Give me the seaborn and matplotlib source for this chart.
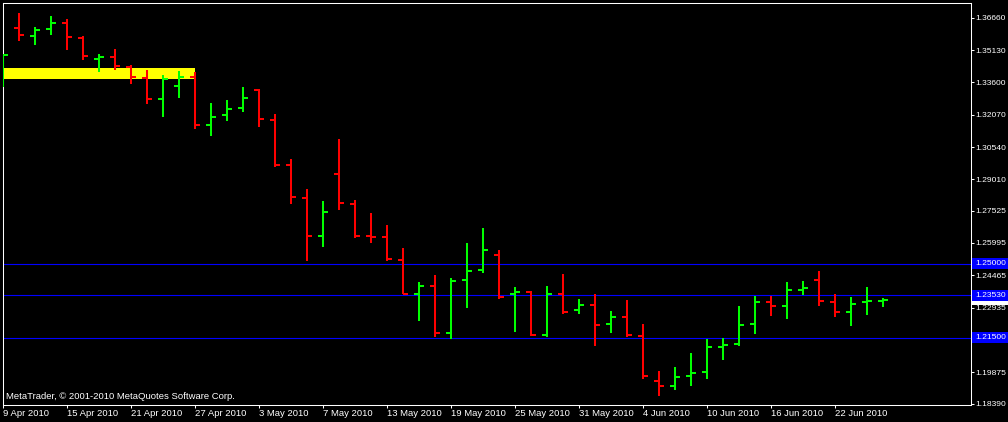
import numpy as np
import pandas as pd
import matplotlib
matplotlib.use("Agg")
import matplotlib.pyplot as plt
import matplotlib.transforms as mtransforms
from matplotlib import font_manager
from matplotlib.patches import Rectangle
import seaborn as sns

# ---------------- data (EURUSD daily) ----------------
opens = [1.34093, 1.36192, 1.35813, 1.36145, 1.36429, 1.35718, 1.34723, 1.34818,
         1.34345, 1.33823, 1.32814, 1.33430, 1.33871, 1.31583, 1.32071, 1.32388,
         1.33241, 1.31820, 1.29688, 1.28139, 1.26339, 1.29262, 1.27841, 1.26325,
         1.26292, 1.25188, 1.23577, 1.23970, 1.21744, 1.24240, 1.24714, 1.25439,
         1.23577, 1.23686, 1.21635, 1.23577, 1.22819, 1.23070, 1.22156, 1.22502,
         1.21602, 1.19470, 1.19233, 1.19707, 1.19896, 1.21090, 1.21209, 1.22156,
         1.23212, 1.23009, 1.23790, 1.24240, 1.23212, 1.22739, 1.23198, 1.23269]
highs = [1.34970, 1.36874, 1.36211, 1.36746, 1.36590, 1.35799, 1.34946, 1.35169,
         1.34425, 1.34188, 1.33951, 1.34127, 1.34093, 1.32625, 1.32767, 1.33383,
         1.33288, 1.32104, 1.29958, 1.28551, 1.27983, 1.30920, 1.28030, 1.27414,
         1.26846, 1.25742, 1.24146, 1.24477, 1.24321, 1.25979, 1.26704, 1.25661,
         1.23895, 1.23719, 1.23956, 1.24525, 1.23340, 1.23577, 1.22772, 1.23293,
         1.22156, 1.19930, 1.20119, 1.20782, 1.21445, 1.21493, 1.23009, 1.23482,
         1.23482, 1.24146, 1.24193, 1.24667, 1.23577, 1.23435, 1.23909, 1.23388]
lows = [1.33383, 1.35576, 1.35387, 1.35860, 1.35136, 1.34662, 1.34108, 1.34188,
        1.33525, 1.32563, 1.31976, 1.32876, 1.31393, 1.31062, 1.31772, 1.32199,
        1.31502, 1.29607, 1.27841, 1.25140, 1.25818, 1.27556, 1.26244, 1.26007,
        1.25140, 1.23577, 1.22312, 1.21554, 1.21431, 1.22928, 1.24586, 1.23326,
        1.21791, 1.21588, 1.21554, 1.22630, 1.22630, 1.21114, 1.21744, 1.21554,
        1.19551, 1.18759, 1.19030, 1.19233, 1.19551, 1.20451, 1.21114, 1.21682,
        1.22535, 1.22393, 1.23530, 1.23009, 1.22488, 1.22061, 1.22582, 1.22961]
closes = [1.34922, 1.35860, 1.36097, 1.36429, 1.35766, 1.34851, 1.34818, 1.34378,
          1.33871, 1.32814, 1.33776, 1.33857, 1.31583, 1.31976, 1.32341, 1.32862,
          1.31867, 1.29688, 1.28172, 1.26325, 1.27462, 1.27888, 1.26325, 1.26301,
          1.25235, 1.23601, 1.23970, 1.21744, 1.24207, 1.24681, 1.25661, 1.23421,
          1.23686, 1.21635, 1.23577, 1.22739, 1.23056, 1.22109, 1.22502, 1.21635,
          1.19707, 1.19233, 1.19660, 1.19849, 1.21081, 1.21138, 1.22109, 1.23212,
          1.23009, 1.23767, 1.23838, 1.23246, 1.22739, 1.23103, 1.23260, 1.23302]

xtick_labels = ["9 Apr 2010", "15 Apr 2010", "21 Apr 2010", "27 Apr 2010",
                "3 May 2010", "7 May 2010", "13 May 2010", "19 May 2010",
                "25 May 2010", "31 May 2010", "4 Jun 2010", "10 Jun 2010",
                "16 Jun 2010", "22 Jun 2010"]
ytick_values = [1.36660, 1.35130, 1.33600, 1.32070, 1.30540, 1.29010, 1.27525,
                1.25995, 1.24465, 1.22935, 1.19875, 1.18390]
level_lines = [1.25000, 1.23530, 1.21500]
zone_bars = [0, 12]
zone_prices = [1.33762, 1.34283]
bid_price = 1.23302
copyright_text = "MetaTrader, \u00a9 2001-2010 MetaQuotes Software Corp."

# ---------------- style ----------------
sns.set_theme(style="dark", rc={
    "axes.facecolor": "black",
    "figure.facecolor": "black",
    "axes.edgecolor": "white",
    "text.color": "white",
    "xtick.color": "white",
    "ytick.color": "white",
    "axes.grid": False,
})
plt.rcParams["font.family"] = ["Liberation Sans", "DejaVu Sans"]
FS = 6.8

installed = {f.name for f in font_manager.fontManager.ttflist}
if "Liberation Sans Narrow" in installed:
    PRICE_FONT, PRICE_FS = "Liberation Sans Narrow", 7.2
else:
    PRICE_FONT, PRICE_FS = "Liberation Sans", 6.1

UP, DOWN = "#00FF00", "#FF0000"

W, H = 1008, 422
fig = plt.figure(figsize=(W / 100, H / 100), dpi=100, facecolor="black")
ax = fig.add_axes([2.5 / W, 1 - 404.5 / H, 968 / W, 402 / H])
ax.set_facecolor("black")

n = len(opens)
df = pd.DataFrame({"bar": np.arange(n), "open": opens, "high": highs,
                   "low": lows, "close": closes})
df["dir"] = np.where(df["close"] >= df["open"], "up", "down")
palette = {"up": UP, "down": DOWN}

# level lines & zone (behind bars)
for lv in level_lines:
    ax.axhline(lv, color="#0000FF", lw=0.8, zorder=1)
ax.fill_between(zone_bars, zone_prices[0], zone_prices[1], color="#FFFF00",
                lw=0, zorder=1.5)

# high-low ranges through seaborn
long = df.melt(id_vars=["bar", "dir"], value_vars=["high", "low"],
               value_name="price")
sns.lineplot(data=long, x="bar", y="price", units="bar", estimator=None,
             hue="dir", palette=palette, legend=False, lw=1.45,
             solid_capstyle="butt", ax=ax, zorder=3, sort=False)

# open / close ticks
tk = 0.31
cols = df["dir"].map(palette).tolist()
ax.hlines(df["open"], df["bar"] - tk, df["bar"], colors=cols, lw=1.45,
          capstyle="butt", zorder=3)
ax.hlines(df["close"], df["bar"], df["bar"] + tk, colors=cols, lw=1.45,
          capstyle="butt", zorder=3)

ax.set_xlim(-0.031, 60.47)
ax.set_ylim(1.18343, 1.37386)
ax.set_xlabel("")
ax.set_ylabel("")

# axes / ticks
for s in ax.spines.values():
    s.set_visible(True)
    s.set_color("white")
    s.set_linewidth(0.75)
ax.set_xticks(np.arange(0, 4 * len(xtick_labels), 4))
ax.set_xticklabels(xtick_labels)
for lab in ax.get_xticklabels():
    lab.set_ha("left")
ax.yaxis.tick_right()
ax.set_yticks(ytick_values)
ax.set_yticklabels([f"{v:.5f}" for v in ytick_values])
ax.tick_params(axis="x", colors="white", length=2.2, width=0.75, pad=1.2,
               labelsize=FS, bottom=True)
ax.tick_params(axis="y", colors="white", length=2.2, width=0.75, pad=1.6,
               labelsize=PRICE_FS, right=True, left=False)
for lab in ax.get_yticklabels():
    lab.set_fontfamily(PRICE_FONT)
ax.yaxis.set_zorder(5)

# price labels on the right scale
tr = mtransforms.blended_transform_factory(ax.transAxes, ax.transData)
box_h = 11 / 2111
x_box = 1.0012
x_txt = (975.5 - 2.5) / 968
ax.add_patch(Rectangle((x_box, bid_price - box_h / 2), 0.05, box_h,
                       transform=tr, clip_on=False, fc="white", ec="none",
                       zorder=3.5))
ax.text(x_txt, bid_price, f"{bid_price:.5f}", transform=tr, color="black",
        fontsize=PRICE_FS, family=PRICE_FONT, va="center", ha="left",
        zorder=3.6, clip_on=False)
for lv in level_lines:
    ax.add_patch(Rectangle((x_box, lv - box_h / 2), 0.05, box_h, transform=tr,
                           clip_on=False, fc="#0000FF", ec="none", zorder=4))
    ax.text(x_txt, lv, f"{lv:.5f}", transform=tr, color="white",
            fontsize=PRICE_FS, family=PRICE_FONT, va="center", ha="left",
            zorder=4.1, clip_on=False)

fig.text(6 / W, 1 - 396.5 / H, copyright_text, color="white", fontsize=FS,
         va="center", ha="left")

fig.savefig("out.png", dpi=100, facecolor="black")
